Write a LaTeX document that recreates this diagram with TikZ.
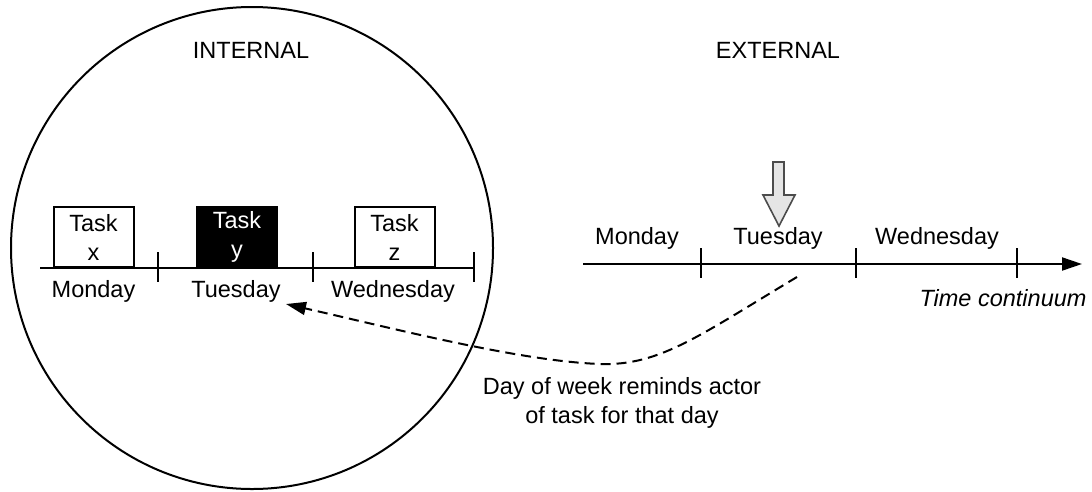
\documentclass[tikz,border=0pt]{standalone}
\usepackage{fontspec}
\setmainfont{Liberation Sans}
\usetikzlibrary{arrows.meta,calc}

\begin{document}
\begin{tikzpicture}[x=1pt, y=-1pt, >={Triangle[length=20pt,width=13pt]}]
      \tikzstyle{every node}=[font=\fontsize{23.5}{29}\selectfont]
      \tikzstyle{task}=[draw,line width=2pt,minimum width=80pt,minimum height=60pt,inner sep=0pt,align=center,anchor=south]
      \tikzstyle{axis}=[line width=2pt]
      \useasboundingbox (0,0) rectangle (1092,491);

      % draw internal side
      \node [draw,circle,line width=2pt,minimum size=482pt,inner sep=0pt] (mind) at (252,248) {};
      \node (internal) at (251,50) {INTERNAL};

      \coordinate (inStart) at (40,268);
      \coordinate (inEnd) at (474,268);
      \draw [axis] (inStart) -- (inEnd);
      \foreach \t [count=\i] in {158,313,474}
      \draw [axis] (\t,252) -- (\t,282);

      \node [task] (taskx) at (93.5,268) {Task\\x};
      \node [task,fill=black,text=white] (tasky) at (237,268) {Task\\y};
      \node [task] (taskz) at (394.5,268) {Task\\z};

      \foreach \d/\x in {Monday/93.5,Tuesday/236,Wednesday/393}
      \node (in\d) at (\x,291) {\d};

      % draw external side
      \node (external) at (778,50) {EXTERNAL};

      \coordinate (exStart) at (583,264);
      \coordinate (exEnd) at (1082,264);
      \draw [axis,->] (exStart) -- (exEnd);
      \foreach \t in {701,856,1017}
      \draw [axis] (\t,248) -- (\t,278);

      \foreach \d/\x in {Monday/637,Tuesday/778,Wednesday/937}
      \node (ex\d) at (\x,238) {\d};
      \node [font=\fontsize{23.5}{29}\selectfont\itshape] (continuum) at (1003,298) {Time continuum};

      % now marker
      \draw [line width=1.6pt,draw=black!70,fill=gray!20,line join=miter]
      (773,162) -- (784,162) -- (784,195) -- (795,195) -- (779,226) -- (763,195) -- (773,195) -- cycle;

      % draw reminder
      \coordinate (remStart) at (797,277);
      \coordinate (remEnd) at (286,304);
      \draw [->,line width=2pt,dash pattern=on 10pt off 6pt]
      (remStart) .. controls (700,335) and (660,366) .. (600,364)
      .. controls (520,361) and (400,330) .. (remEnd);
      \node [align=center] (reminds) at (622,403) {Day of week reminds actor\\of task for that day};

\end{tikzpicture}
\end{document}
